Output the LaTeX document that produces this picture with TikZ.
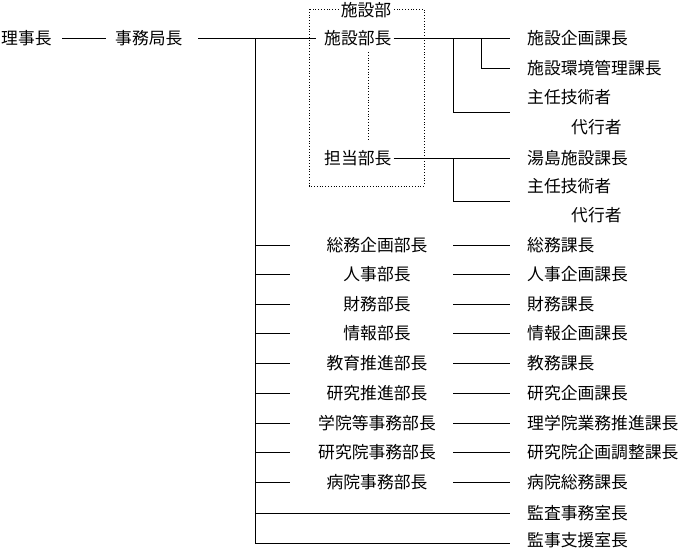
\documentclass[tikz,border=0pt]{standalone}
\usepackage{fontspec}
\setmainfont{Noto Sans CJK JP}
\begin{document}
\begin{tikzpicture}[x=1pt,y=-1pt,
  t/.style={inner sep=0pt,font=\fontsize{16.8}{17}\selectfont},
  ln/.style={line width=0.8pt},
  dt/.style={line width=0.8pt,dotted}]
\useasboundingbox (0,0) rectangle (680,549);
\node[t,anchor=west] (rij) at (1,38) {理事長};
\node[t,anchor=west] (jim) at (115,38) {事務局長};
\draw[ln] (62,38) -- (106,38);
\draw[ln] (198,38) -- (316,38);
\draw[ln] (255,38) -- (255,544);
% facility box
\draw[dt] (309,9) rectangle (424,186);
\node[t,fill=white,inner xsep=2pt] (sbu) at (366,10) {施設部};
\node[t,anchor=west] (sbc) at (324,38) {施設部長};
\node[t,anchor=west] (tbc) at (324,158) {担当部長};
\draw[dt] (368,52) -- (368,141);
\node[t,anchor=west] (r1) at (527,38) {施設企画課長};
\node[t,anchor=west] (r2) at (527,68) {施設環境管理課長};
\node[t,anchor=west] (r3) at (527,97) {主任技術者};
\node[t,anchor=west] (r4) at (571,127) {代行者};
\node[t,anchor=west] (r5) at (527,158) {湯島施設課長};
\node[t,anchor=west] (r6) at (527,186) {主任技術者};
\node[t,anchor=west] (r7) at (571,215) {代行者};
\draw[ln] (sbc.east)++(2,0) -- (510,38);
\draw[ln] (481,38) |- (510,68);
\draw[ln] (453,38) |- (510,112);
\draw[ln] (tbc.east)++(2,0) -- (510,158);
\draw[ln] (453,158) |- (510,201);
% rows
\foreach \y/\m/\r in {245/総務企画部長/総務課長,274/人事部長/人事企画課長,304/財務部長/財務課長,333/情報部長/情報企画課長,363/教育推進部長/教務課長,393/研究推進部長/研究企画課長,423/学院等事務部長/理学院業務推進課長,452/研究院事務部長/研究院企画調整課長,482/病院事務部長/病院総務課長}{
  \node[t] (m\y) at (377,\y) {\m};
  \node[t,anchor=west] (n\y) at (527,\y) {\r};
  \draw[ln] (255,\y) -- (290,\y);
  \draw[ln] (453,\y) -- (510,\y);
}
\node[t,anchor=west] (k1) at (527,513) {監査事務室長};
\node[t,anchor=west] (k2) at (527,540) {監事支援室長};
\draw[ln] (255,513) -- (510,513);
\draw[ln] (255,543) -- (510,543);
\end{tikzpicture}
\end{document}
